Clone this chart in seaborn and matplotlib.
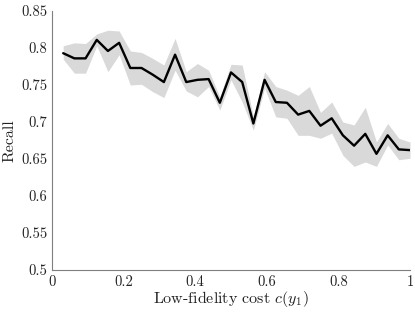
import matplotlib
matplotlib.use("Agg")
import matplotlib.pyplot as plt
import numpy as np
import pandas as pd
import seaborn as sns

# ── Data ──────────────────────────────────────────────────────────────
cost = [k / 32 for k in range(1, 33)]
recall_mean = [
    0.793, 0.786, 0.786, 0.811, 0.796, 0.807, 0.773, 0.773,
    0.764, 0.754, 0.791, 0.754, 0.757, 0.758, 0.726, 0.767,
    0.754, 0.698, 0.757, 0.727, 0.726, 0.710, 0.715, 0.695,
    0.705, 0.682, 0.668, 0.684, 0.657, 0.682, 0.663, 0.662,
]
recall_upper = [
    0.803, 0.807, 0.806, 0.819, 0.824, 0.823, 0.796, 0.794,
    0.786, 0.777, 0.813, 0.768, 0.779, 0.770, 0.734, 0.778,
    0.777, 0.707, 0.768, 0.748, 0.743, 0.736, 0.748, 0.713,
    0.727, 0.700, 0.696, 0.720, 0.673, 0.698, 0.678, 0.673,
]
recall_lower = [
    0.785, 0.766, 0.766, 0.803, 0.768, 0.791, 0.750, 0.751,
    0.741, 0.733, 0.770, 0.742, 0.734, 0.748, 0.716, 0.757,
    0.727, 0.689, 0.746, 0.707, 0.705, 0.682, 0.682, 0.678,
    0.685, 0.655, 0.640, 0.646, 0.640, 0.669, 0.649, 0.651,
]
x_ticks = [0, 0.2, 0.4, 0.6, 0.8, 1]
x_ticklabels = ["0", "0.2", "0.4", "0.6", "0.8", "1"]
y_ticks = [0.5, 0.55, 0.6, 0.65, 0.7, 0.75, 0.8, 0.85]
y_ticklabels = ["0.5", "0.55", "0.6", "0.65", "0.7", "0.75", "0.8", "0.85"]

AXIS_GREY = "#7f7f7f"
BAND_GREY = "#d9d9d9"
TEXT = "#222222"

sns.set_style("white")
plt.rcParams.update({
    "font.family": ["cmr10", "DejaVu Serif"],
    "mathtext.fontset": "cm",
    "axes.formatter.use_mathtext": True,
    "axes.edgecolor": AXIS_GREY,
    "axes.linewidth": 0.8,
    "xtick.color": AXIS_GREY,
    "ytick.color": AXIS_GREY,
    "text.color": TEXT,
    "axes.labelcolor": TEXT,
})

df = pd.DataFrame({"cost": cost, "recall": recall_mean})

fig = plt.figure(figsize=(4.15, 3.12), dpi=100)
ax = fig.add_axes([0.1253, 0.1346, 0.8627, 0.8301])

ax.fill_between(cost, recall_lower, recall_upper, color=BAND_GREY, linewidth=0)
sns.lineplot(data=df, x="cost", y="recall", color="black", linewidth=1.7, ax=ax)

ax.set_xlim(0, 1)
ax.set_ylim(0.5, 0.85)
ax.set_xticks(x_ticks)
ax.set_xticklabels(x_ticklabels)
ax.set_yticks(y_ticks)
ax.set_yticklabels(y_ticklabels)
ax.tick_params(direction="in", length=3, width=0.6, labelsize=10.5, pad=3.5)
for lab in ax.get_xticklabels() + ax.get_yticklabels():
    lab.set_color(TEXT)

ax.set_xlabel(r"Low-fidelity cost $c(y_1)$", fontsize=11.5, labelpad=0)
ax.set_ylabel("Recall", fontsize=11.5, labelpad=3)

sns.despine(ax=ax)

fig.savefig("out.png", dpi=100)
